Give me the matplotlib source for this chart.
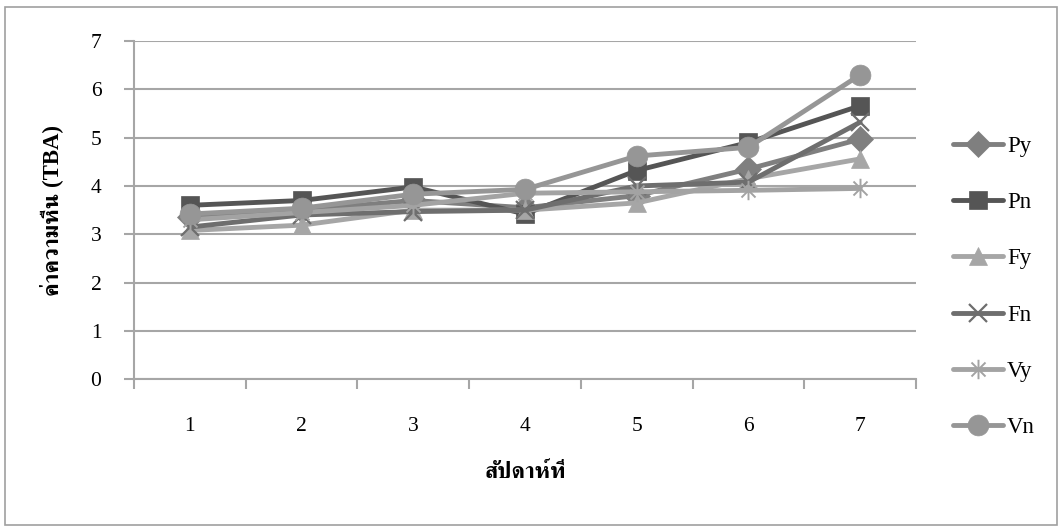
import matplotlib
matplotlib.use("Agg")
import matplotlib.pyplot as plt
from matplotlib.path import Path
from matplotlib.patches import Rectangle
import numpy as np

weeks = [1, 2, 3, 4, 5, 6, 7]
Py = [3.35, 3.50, 3.70, 3.55, 3.80, 4.35, 4.97]
Pn = [3.60, 3.70, 3.98, 3.42, 4.32, 4.90, 5.66]
Fy = [3.08, 3.19, 3.50, 3.50, 3.65, 4.15, 4.56]
Fn = [3.15, 3.40, 3.47, 3.50, 4.00, 4.08, 5.32]
Vy = [3.30, 3.45, 3.60, 3.85, 3.88, 3.91, 3.95]
Vn = [3.42, 3.54, 3.83, 3.93, 4.62, 4.80, 6.30]
yticks = [0, 1, 2, 3, 4, 5, 6, 7]
xlabel = "สัปดาห์ที่"
ylabel = "ค่าความหืน (TBA)"

serif = ['Liberation Serif', 'FreeSerif', 'DejaVu Serif']
plt.rcParams['font.family'] = serif

# asterisk marker (vertical line + x)
d = 0.72
ast = Path([(0, -1), (0, 1), (-d, -d), (d, d), (-d, d), (d, -d)],
           [Path.MOVETO, Path.LINETO, Path.MOVETO, Path.LINETO, Path.MOVETO, Path.LINETO])

series = [
    ("Py", Py, "#7f7f7f", "D", 13, 1.0),
    ("Pn", Pn, "#555555", "s", 13, 1.0),
    ("Fy", Fy, "#a6a6a6", "^", 13, 1.0),
    ("Fn", Fn, "#6e6e6e", "x", 13, 1.6),
    ("Vy", Vy, "#a3a3a3", ast, 14, 1.4),
    ("Vn", Vn, "#969696", "o", 15, 1.0),
]

fig = plt.figure(figsize=(10.59, 5.31), dpi=100)
fig.patches.append(Rectangle((5/1059, 1 - 525/531), 1052/1059, 518/531,
                             transform=fig.transFigure, fill=False,
                             edgecolor="#a0a0a0", linewidth=1.2))
ax = fig.add_axes([134/1059, 1 - 379.3/531, (916 - 134)/1059, (379.3 - 41)/531])

for name, vals, col, mk, ms, mew in series:
    if mk in ("x",) or mk is ast:
        ax.plot(weeks, vals, color=col, lw=3.5, marker=mk, markersize=ms,
                markeredgecolor=col, markeredgewidth=mew, label=name,
                solid_capstyle="round", solid_joinstyle="round")
    else:
        ax.plot(weeks, vals, color=col, lw=3.5, marker=mk, markersize=ms,
                markerfacecolor=col, markeredgecolor=col, markeredgewidth=0.5,
                label=name, solid_capstyle="round", solid_joinstyle="round")

grid_col = "#a6a6a6"
ax.set_xlim(0.5, 7.5)
ax.set_ylim(0, 7)
ax.set_yticks(yticks)
ax.set_xticks(weeks)
ax.set_xticks(np.arange(0.5, 8.0, 1.0), minor=True)
ax.yaxis.grid(True, color=grid_col, lw=1.5)
ax.set_axisbelow(True)
for s in ("top", "right"):
    ax.spines[s].set_visible(False)
for s in ("left", "bottom"):
    ax.spines[s].set_color(grid_col)
    ax.spines[s].set_linewidth(1.5)
ax.tick_params(axis="x", which="major", length=0, pad=27, labelsize=15.5)
ax.tick_params(axis="x", which="minor", length=7.5, width=1.5, color=grid_col, direction="out")
ax.tick_params(axis="y", which="major", length=7.5, width=1.5, color=grid_col,
               pad=16, labelsize=15.5)

ax.set_xlabel(xlabel, fontsize=16.5, fontweight="bold", labelpad=19)
ax.set_ylabel(ylabel, fontsize=16.5, fontweight="bold", labelpad=20)

leg = fig.legend(loc="center left", bbox_to_anchor=(953/1059, 1 - 287/531),
                 frameon=False, fontsize=16.5, borderpad=0, borderaxespad=0,
                 handlelength=2.2, handletextpad=0.15, labelspacing=1.54)

fig.savefig("out.png", dpi=100)
